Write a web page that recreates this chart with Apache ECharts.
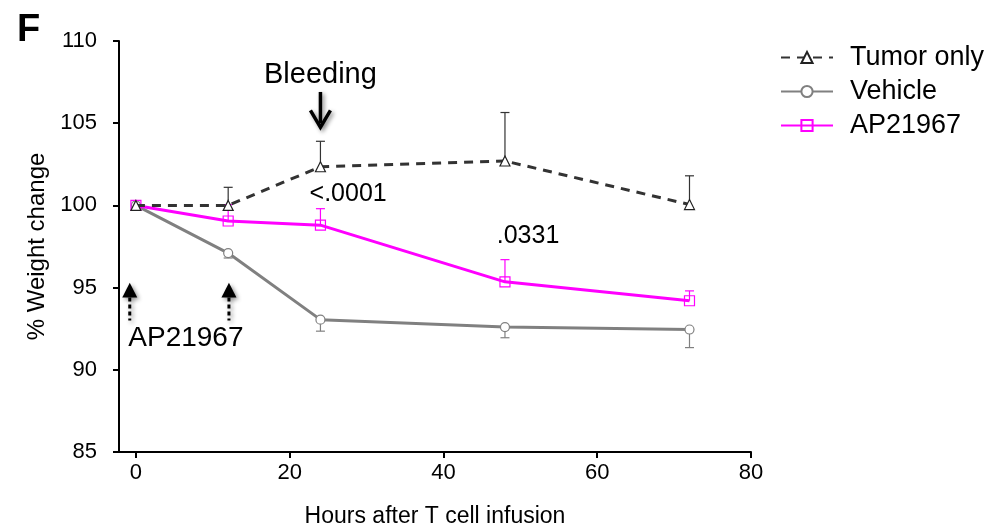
<!DOCTYPE html>
<html>
<head>
<meta charset="utf-8">
<script src="https://cdn.jsdelivr.net/npm/echarts@6/dist/echarts.min.js"></script>
<style>
html, body { margin: 0; padding: 0; background: #fff; }
#main { width: 985px; height: 531px; }
</style>
</head>
<body>
<div id="main"></div>
<script>
// time points (hours after T cell infusion)
var hours = [0, 12, 24, 48, 72]
// % weight change, means and error (SEM)
var tumorOnly = [100, 100, 102.35, 102.7, 100.05]
var tumorOnlyErr = [0, 1.1, 1.55, 2.95, 1.75]
var vehicle = [100, 97.1, 93.05, 92.6, 92.45]
var vehicleErr = [0, 0.3, 0.7, 0.65, 1.1]
var ap21967 = [100, 99.05, 98.8, 95.35, 94.2]
var ap21967Err = [0, 1.0, 1.0, 1.35, 0.6]
var xTicks = [0, 20, 40, 60, 80]
var seriesNames = ['Tumor only', 'Vehicle', 'AP21967']

var FONT = 'Liberation Sans, Arial, sans-serif'

function pairs(ys) {
    return hours.map(function (h, i) { return [h, ys[i]] })
}
function errData(ys, errs) {
    return hours.map(function (h, i) { return [h, ys[i], errs[i]] })
}

// error bar: dir 1 = up, -1 = down
function errSeries(name, ys, errs, color, dir) {
    return {
        type: 'custom',
        name: name + '_err',
        silent: true,
        z: 1,
        data: errData(ys, errs),
        renderItem: function (params, api) {
            var x = api.value(0), y = api.value(1), e = api.value(2)
            if (!e) return
            var p0 = api.coord([x, y])
            var p1 = api.coord([x, y + dir * e])
            var half = 4.5
            return {
                type: 'group',
                children: [
                    { type: 'line', shape: { x1: p0[0], y1: p0[1], x2: p1[0], y2: p1[1] }, style: { stroke: color, lineWidth: 1.2 } },
                    { type: 'line', shape: { x1: p1[0] - half, y1: p1[1], x2: p1[0] + half, y2: p1[1] }, style: { stroke: color, lineWidth: 1.2 } }
                ]
            }
        }
    }
}

var myChart = echarts.init(document.getElementById('main'))

var option = {
    backgroundColor: '#fff',
    animation: false,
    textStyle: { fontFamily: FONT },
    grid: {
        left: 119,
        right: 234,
        top: 41,
        bottom: 79,
        outerBoundsMode: 'none',
        containLabel: false
    },
    legend: {
        orient: 'vertical',
        left: 775,
        top: 39,
        itemWidth: 52,
        itemHeight: 14,
        itemGap: 7,
        data: seriesNames,
        textStyle: { fontSize: 27, color: '#000', fontFamily: FONT, padding: [0, 0, 0, 12] }
    },
    xAxis: {
        type: 'value',
        min: -2.2,
        max: 80,
        name: 'Hours after T cell infusion',
        nameLocation: 'middle',
        nameGap: 53,
        nameTextStyle: { fontSize: 23, color: '#000', fontFamily: FONT },
        axisLine: { onZero: false, lineStyle: { color: '#000', width: 2 } },
        axisTick: { customValues: xTicks, length: 6, lineStyle: { color: '#000', width: 2 } },
        axisLabel: { customValues: xTicks, fontSize: 22, color: '#000', margin: 10, fontFamily: FONT },
        splitLine: { show: false }
    },
    yAxis: {
        type: 'value',
        min: 85,
        max: 110,
        interval: 5,
        name: '% Weight change',
        nameLocation: 'middle',
        nameGap: 68,
        nameTextStyle: { fontSize: 24, color: '#000', fontFamily: FONT },
        axisLine: { show: true, onZero: false, lineStyle: { color: '#000', width: 2 } },
        axisTick: { show: true, length: 6, lineStyle: { color: '#000', width: 2 } },
        axisLabel: { fontSize: 22, color: '#000', margin: 22, fontFamily: FONT },
        splitLine: { show: false }
    },
    series: [
        errSeries(seriesNames[0], tumorOnly, tumorOnlyErr, '#333', 1),
        errSeries(seriesNames[1], vehicle, vehicleErr, '#808080', -1),
        errSeries(seriesNames[2], ap21967, ap21967Err, '#ff00ff', 1),
        {
            name: seriesNames[1],
            type: 'line',
            z: 2,
            data: pairs(vehicle),
            symbol: 'circle',
            symbolSize: 9,
            lineStyle: { color: '#808080', width: 3 },
            itemStyle: { color: '#fff', borderColor: '#808080', borderWidth: 1.2 },
            emphasis: { disabled: true }
        },
        {
            name: seriesNames[2],
            type: 'line',
            z: 3,
            data: pairs(ap21967),
            symbol: 'rect',
            symbolSize: 10,
            lineStyle: { color: '#ff00ff', width: 3 },
            itemStyle: { color: 'rgba(255,255,255,0)', borderColor: '#ff00ff', borderWidth: 1.2 },
            emphasis: { disabled: true }
        },
        {
            name: seriesNames[0],
            type: 'line',
            z: 4,
            data: pairs(tumorOnly),
            symbol: 'triangle',
            symbolSize: 10,
            lineStyle: { color: '#333', width: 3, type: [9, 7] },
            itemStyle: { color: '#fff', borderColor: '#222', borderWidth: 1.2 },
            emphasis: { disabled: true }
        }
    ]
}
myChart.setOption(option)

// annotations, placed in data space
function px(x, y) { return myChart.convertToPixel({ gridIndex: 0 }, [x, y]) }

var shadow = { shadowBlur: 4, shadowColor: 'rgba(0,0,0,0.45)', shadowOffsetX: 2, shadowOffsetY: 2 }

function upArrow(h) {
    var tip = px(h, 95.3)
    var base = px(h, 94.4)
    var end = px(h, 93.0)
    return [
        { type: 'polygon', shape: { points: [[tip[0], tip[1]], [tip[0] - 7.5, base[1]], [tip[0] + 7.5, base[1]]] },
          style: Object.assign({ fill: '#000' }, shadow) },
        { type: 'line', shape: { x1: tip[0], y1: base[1], x2: tip[0], y2: end[1] },
          style: Object.assign({ stroke: '#000', lineWidth: 3, lineDash: [4, 3] }, shadow) }
    ]
}

var bTop = px(24, 106.9)
var bTip = px(24, 104.75)
var label1 = px(27.6, 100.67)
var label2 = px(51.0, 98.12)
var apLab = px(6.5, 91.93)
var bLab = px(24, 107.95)

var graphics = [
    { type: 'text', left: 17, top: 12, style: { text: 'F', font: 'bold 38px ' + FONT, fill: '#000' } },
    { type: 'text', x: bLab[0], y: bLab[1], style: { text: 'Bleeding', font: '29px ' + FONT, fill: '#000', align: 'center', verticalAlign: 'middle' } },
    { type: 'line', shape: { x1: bTop[0], y1: bTop[1], x2: bTop[0], y2: bTip[1] - 4 },
      style: Object.assign({ stroke: '#000', lineWidth: 3.5 }, shadow) },
    { type: 'polyline', shape: { points: [[bTip[0] - 10, bTip[1] - 17], [bTip[0], bTip[1]], [bTip[0] + 10, bTip[1] - 17]] },
      style: Object.assign({ stroke: '#000', lineWidth: 3.5, fill: null }, shadow) },
    { type: 'text', x: label1[0], y: label1[1], style: { text: '<.0001', font: '25px ' + FONT, fill: '#000', align: 'center', verticalAlign: 'middle' } },
    { type: 'text', x: label2[0], y: label2[1], style: { text: '.0331', font: '25px ' + FONT, fill: '#000', align: 'center', verticalAlign: 'middle' } },
    { type: 'text', x: apLab[0], y: apLab[1], style: { text: 'AP21967', font: '28px ' + FONT, fill: '#000', align: 'center', verticalAlign: 'middle' } }
].concat(upArrow(-0.8)).concat(upArrow(12.1))

myChart.setOption({ graphic: graphics })
</script>
</body>
</html>
